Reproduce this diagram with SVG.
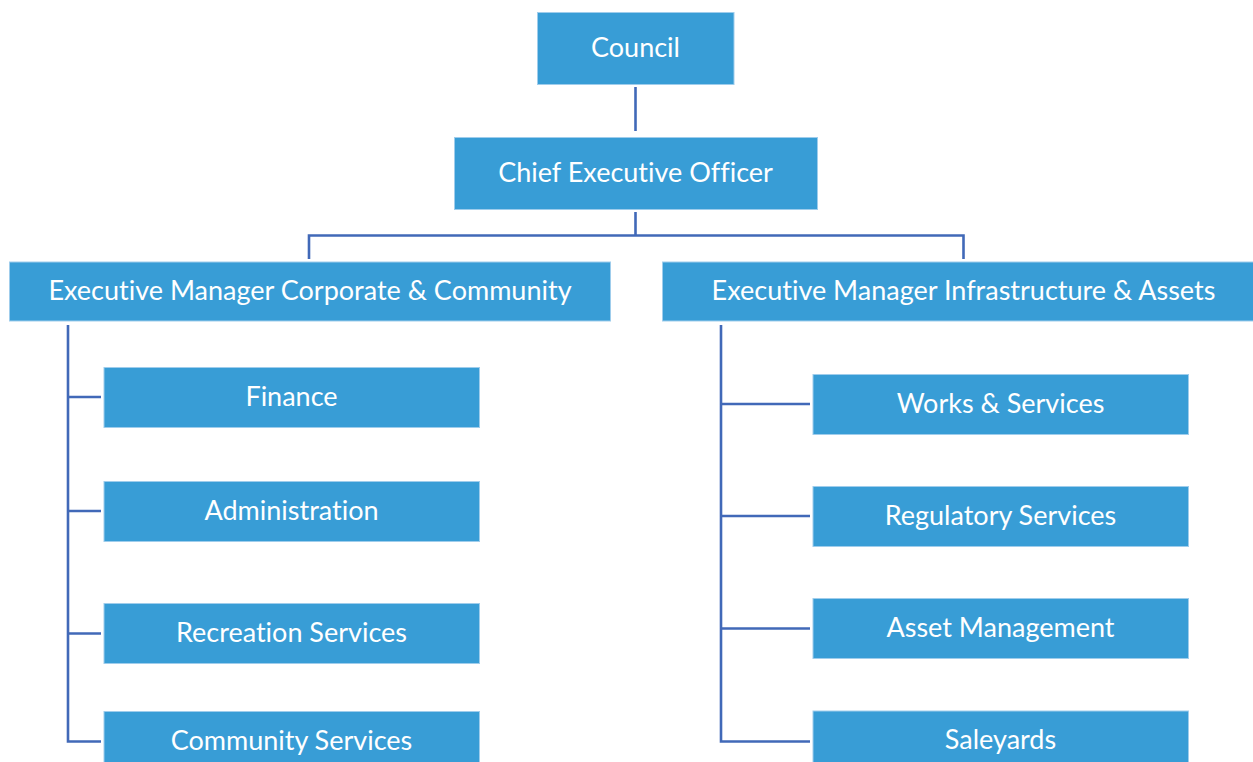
<svg xmlns="http://www.w3.org/2000/svg" width="1253" height="762" viewBox="0 0 1253 762">
<style>
.box{fill:#389dd6;stroke:#9fcdec;stroke-width:1}
.t{font-family:"Lato","Open Sans","Liberation Sans",sans-serif;font-size:27px;fill:#ffffff;text-anchor:middle;font-variant-ligatures:none}
.c{fill:none;stroke:#4169b8;stroke-width:2.6;stroke-linecap:butt}
</style>
<rect width="1253" height="762" fill="#ffffff"/>
<g id="connectors">
<path class="c" d="M635.5 87V131"/>
<path class="c" d="M635.5 212V235.5M309 259V235.5H963.5V259"/>
<path class="c" d="M68 325V741.5H101M68 397H101M68 511H101M68 633.5H101"/>
<path class="c" d="M721 325V741.5H810M721 404H810M721 516H810M721 628.5H810"/>
</g>
<g id="council"><rect class="box" x="537.5" y="12.5" width="196.5" height="72"/><text class="t" x="635.5" y="57">Council</text></g>
<g id="ceo"><rect class="box" x="454.5" y="137.5" width="363" height="72"/><text class="t" x="635.5" y="182">Chief Executive Officer</text></g>
<g id="em-corporate"><rect class="box" x="9.5" y="262" width="601" height="59"/><text class="t" x="310" y="300">Executive Manager Corporate &amp; Community</text></g>
<g id="em-infrastructure"><rect class="box" x="662.5" y="262" width="605" height="59"/><text class="t" x="963.5" y="300">Executive Manager Infrastructure &amp; Assets</text></g>
<g id="finance"><rect class="box" x="104" y="367.5" width="375.5" height="60"/><text class="t" x="291.5" y="406">Finance</text></g>
<g id="administration"><rect class="box" x="104" y="481.5" width="375.5" height="60"/><text class="t" x="291.5" y="520">Administration</text></g>
<g id="recreation"><rect class="box" x="104" y="603.5" width="375.5" height="60"/><text class="t" x="291.5" y="642">Recreation Services</text></g>
<g id="community"><rect class="box" x="104" y="711.5" width="375.5" height="60"/><text class="t" x="291.5" y="750">Community Services</text></g>
<g id="works"><rect class="box" x="813" y="374.5" width="375.5" height="60"/><text class="t" x="1000.5" y="413">Works &amp; Services</text></g>
<g id="regulatory"><rect class="box" x="813" y="486.5" width="375.5" height="60"/><text class="t" x="1000.5" y="525">Regulatory Services</text></g>
<g id="asset"><rect class="box" x="813" y="598.5" width="375.5" height="60"/><text class="t" x="1000.5" y="637">Asset Management</text></g>
<g id="saleyards"><rect class="box" x="813" y="711" width="375.5" height="60"/><text class="t" x="1000.5" y="749">Saleyards</text></g>
</svg>
